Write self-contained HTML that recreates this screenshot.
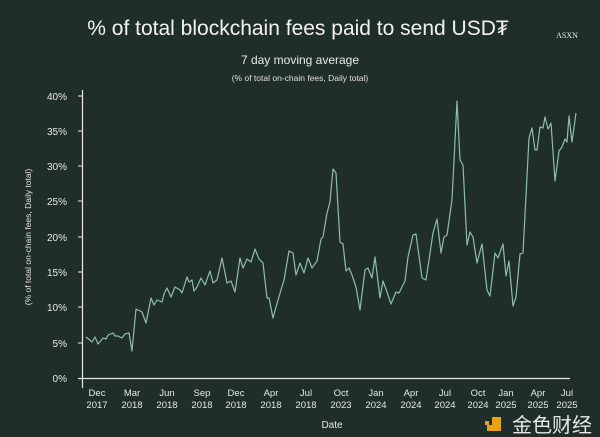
<!DOCTYPE html>
<html><head><meta charset="utf-8"><style>
body{margin:0;background:#1f2e2b;}
svg{display:block}
</style></head><body>
<svg width="600" height="437" xmlns="http://www.w3.org/2000/svg" font-family="Liberation Sans, sans-serif">
<rect width="600" height="437" fill="#1f2e2b"/>
<text x="298" y="35" text-anchor="middle" font-size="21" fill="#f2f2f2">% of total blockchain fees paid to send USD₮</text>
<text x="567" y="38" text-anchor="middle" font-size="8" fill="#e8e8e8" font-family="Liberation Serif, serif">ASXN</text>
<text x="300" y="64" text-anchor="middle" font-size="12" fill="#e8e8e8">7 day moving average</text>
<text x="300" y="81" text-anchor="middle" font-size="8.5" fill="#e0e0e0">(% of total on-chain fees, Daily total)</text>
<g stroke="#e8e8e8" stroke-width="1.2">
<line x1="82.5" y1="90" x2="82.5" y2="388"/>
<line x1="78" y1="378.5" x2="570" y2="378.5"/>
</g>
<g stroke="#e8e8e8" stroke-width="1">
<line x1="78" y1="343" x2="82" y2="343"/><line x1="78" y1="307" x2="82" y2="307"/><line x1="78" y1="272" x2="82" y2="272"/><line x1="78" y1="237" x2="82" y2="237"/><line x1="78" y1="201" x2="82" y2="201"/><line x1="78" y1="166" x2="82" y2="166"/><line x1="78" y1="131" x2="82" y2="131"/><line x1="78" y1="96" x2="82" y2="96"/>
</g>
<g font-size="10" fill="#e8e8e8" text-anchor="end">
<text x="67" y="382">0%</text><text x="67" y="347">5%</text><text x="67" y="311">10%</text><text x="67" y="276">15%</text><text x="67" y="241">20%</text><text x="67" y="205">25%</text><text x="67" y="170">30%</text><text x="67" y="135">35%</text><text x="67" y="100">40%</text>
</g>
<text transform="translate(31,237) rotate(-90)" text-anchor="middle" font-size="8.5" fill="#e0e0e0">(% of total on-chain fees, Daily total)</text>
<g font-size="9.5" fill="#e8e8e8" text-anchor="middle">
<text x="97" y="396">Dec</text><text x="97" y="408">2017</text>
<text x="132" y="396">Mar</text><text x="132" y="408">2018</text>
<text x="167" y="396">Jun</text><text x="167" y="408">2018</text>
<text x="202" y="396">Sep</text><text x="202" y="408">2018</text>
<text x="236" y="396">Dec</text><text x="236" y="408">2018</text>
<text x="271" y="396">Apr</text><text x="271" y="408">2018</text>
<text x="306" y="396">Jul</text><text x="306" y="408">2018</text>
<text x="341" y="396">Oct</text><text x="341" y="408">2023</text>
<text x="376" y="396">Jan</text><text x="376" y="408">2024</text>
<text x="411" y="396">Apr</text><text x="411" y="408">2024</text>
<text x="445" y="396">Jul</text><text x="445" y="408">2024</text>
<text x="478" y="396">Oct</text><text x="478" y="408">2024</text>
<text x="506" y="396">Jan</text><text x="506" y="408">2025</text>
<text x="538" y="396">Apr</text><text x="538" y="408">2025</text>
<text x="567" y="396">Jul</text><text x="567" y="408">2025</text>
</g>
<text x="332" y="428" text-anchor="middle" font-size="10" fill="#e8e8e8">Date</text>
<polyline fill="none" stroke="#8fbcaf" stroke-width="1.2" stroke-linejoin="round" points="86,337 92,342 95,337 98,344 103,338 106,339 108,335 113,333 115,336 118,336 122,338 125,334 129,333 132,351 136,309 142,312 146,323 151,298 154,305 157,300 162,302 164,294 167,288 171,297 175,287 180,290 182,293 187,277 189,282 192,280 194,291 197,287 201,278 205,285 210,271 213,283 217,280 222,258 227,283 231,281 235,292 240,258 243,268 247,259 251,262 255,249 259,259 263,263 267,298 269,298 273,318 278,300 284,280 289,251 293,253 296,275 300,263 304,273 308,258 312,268 317,261 321,239 323,237 327,213 330,202 333,169 336,173 340,242 343,244 346,271 349,268 352,275 356,287 360,310 365,270 368,268 372,278 375,257 380,298 383,281 387,292 391,304 396,292 399,293 403,285 405,281 408,257 413,235 416,234 422,278 426,280 433,233 437,219 441,253 444,237 447,235 452,200 457,101 460,160 463,165 467,245 470,232 473,237 477,263 482,244 487,290 490,296 495,253 498,258 503,244 506,276 509,261 513,306 516,297 520,254 523,253 529,138 532,128 535,150 537,150 540,127 543,128 545,117 548,129 551,123 555,181 559,151 562,147 565,139 567,142 569,116 572,142 576,113"/>
<g>
<path d="M492 417 h9 v14 h-14 v-6 h5 z" fill="#e8a317"/>
<rect x="485" y="421" width="4" height="4" fill="#e8a317"/>
<text x="552" y="432" text-anchor="middle" font-size="20" fill="#e8e8e8" font-family="Noto Sans CJK SC, sans-serif">金色财经</text>
</g>
</svg>
</body></html>
